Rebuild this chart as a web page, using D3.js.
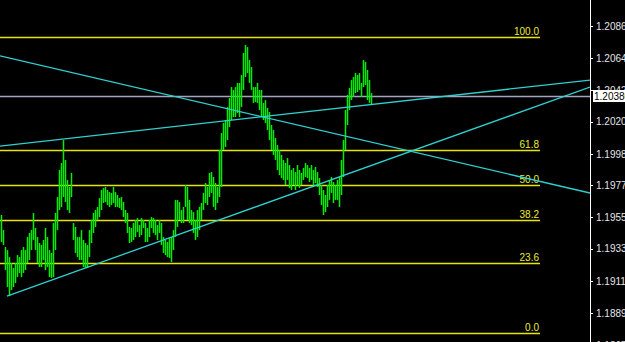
<!DOCTYPE html>
<html>
<head>
<meta charset="utf-8">
<script src="https://cdn.jsdelivr.net/npm/d3@7"></script>
<style>
  html, body { margin: 0; padding: 0; background: #000; }
  svg { display: block; }
  text { font-family: "Liberation Sans", Arial, sans-serif; font-size: 10px; }
</style>
</head>
<body>
<div id="chart"></div>
<script>
// bar highs / lows (EURUSD-ish)
var highs = [
  1.19566, 1.19463, 1.19347, 1.19326, 1.19278, 1.19237, 1.19203, 1.19237, 1.19292, 1.19278,
  1.19326, 1.19347, 1.19326, 1.19415, 1.19443, 1.19463, 1.19580, 1.19477, 1.19415, 1.19374,
  1.19361, 1.19395, 1.19477, 1.19415, 1.19326, 1.19306, 1.19511, 1.19580, 1.19689, 1.19874,
  1.19922, 1.20079, 1.19943, 1.19806, 1.19758, 1.19854,
  1.19511, 1.19484, 1.19415, 1.19415, 1.19463, 1.19395, 1.19374, 1.19361, 1.19463, 1.19532,
  1.19580, 1.19600, 1.19621, 1.19682, 1.19737, 1.19751, 1.19758, 1.19737, 1.19723, 1.19717,
  1.19758, 1.19723, 1.19703, 1.19682, 1.19689, 1.19655, 1.19600, 1.19580, 1.19484,
  1.19477, 1.19511, 1.19532, 1.19545, 1.19497, 1.19545, 1.19532, 1.19511, 1.19477, 1.19532,
  1.19552, 1.19545, 1.19532, 1.19497, 1.19532, 1.19511, 1.19415, 1.19395, 1.19381, 1.19408,
  1.19415, 1.19463, 1.19669, 1.19669, 1.19655, 1.19600, 1.19621, 1.19771, 1.19758, 1.19669,
  1.19600, 1.19586, 1.19532, 1.19600, 1.19621,
  1.19648, 1.19717, 1.19785, 1.19758, 1.19854, 1.19860, 1.19826, 1.19785, 1.19758, 1.20011,
  1.20127, 1.20196, 1.20216, 1.20305, 1.20367, 1.20442, 1.20422, 1.20442, 1.20470, 1.20470,
  1.20525, 1.20675, 1.20730, 1.20716, 1.20627, 1.20579, 1.20442, 1.20442, 1.20470, 1.20422,
  1.20422, 1.20333,
  1.20353, 1.20299, 1.20271, 1.20182, 1.20148, 1.20093, 1.20045, 1.20011, 1.19977, 1.19943,
  1.19922, 1.19956, 1.19908, 1.19874, 1.19888, 1.19860, 1.19908, 1.19874, 1.19854, 1.19888,
  1.19922, 1.19908, 1.19888, 1.19908, 1.19874, 1.19895, 1.19860, 1.19819, 1.19771, 1.19737,
  1.19703, 1.19771, 1.19806, 1.19826, 1.19792, 1.19771, 1.19806, 1.19826, 1.19943, 1.20079,
  1.20285, 1.20388, 1.20436, 1.20490, 1.20511, 1.20538, 1.20525, 1.20538, 1.20470, 1.20627,
  1.20614, 1.20559, 1.20490, 1.20401
];
var lows = [
  1.19381, 1.19361, 1.19189, 1.19073, 1.19011, 1.19052, 1.19073, 1.19100, 1.19141, 1.19169,
  1.19141, 1.19169, 1.19189, 1.19237, 1.19258, 1.19326, 1.19395, 1.19326, 1.19237, 1.19210,
  1.19210, 1.19258, 1.19189, 1.19210, 1.19141, 1.19135, 1.19141, 1.19326, 1.19463, 1.19600,
  1.19621, 1.19689, 1.19655, 1.19600, 1.19580, 1.19689,
  1.19395, 1.19306, 1.19278, 1.19258, 1.19258, 1.19210, 1.19203, 1.19203, 1.19278, 1.19374,
  1.19443, 1.19484, 1.19532, 1.19552, 1.19600, 1.19648, 1.19655, 1.19634, 1.19621, 1.19634,
  1.19648, 1.19621, 1.19621, 1.19614, 1.19600, 1.19552, 1.19511, 1.19443, 1.19374,
  1.19381, 1.19395, 1.19415, 1.19450, 1.19415, 1.19429, 1.19477, 1.19381, 1.19381, 1.19415,
  1.19477, 1.19443, 1.19429, 1.19395, 1.19443, 1.19361, 1.19306, 1.19292, 1.19278, 1.19272,
  1.19244, 1.19326, 1.19415, 1.19484, 1.19532, 1.19511, 1.19511, 1.19621, 1.19532, 1.19511,
  1.19497, 1.19443, 1.19395, 1.19415, 1.19463,
  1.19532, 1.19600, 1.19648, 1.19634, 1.19689, 1.19717, 1.19621, 1.19600, 1.19648, 1.19689,
  1.19758, 1.20011, 1.20032, 1.20079, 1.20168, 1.20216, 1.20237, 1.20237, 1.20264, 1.20237,
  1.20305, 1.20422, 1.20511, 1.20538, 1.20470, 1.20422, 1.20333, 1.20340, 1.20333, 1.20285,
  1.20237, 1.20216,
  1.20196, 1.20148, 1.20079, 1.20011, 1.19977, 1.19943, 1.19874, 1.19840, 1.19819, 1.19806,
  1.19771, 1.19806, 1.19751, 1.19737, 1.19771, 1.19737, 1.19771, 1.19751, 1.19771, 1.19806,
  1.19826, 1.19819, 1.19792, 1.19806, 1.19771, 1.19785, 1.19758, 1.19703, 1.19634, 1.19566,
  1.19586, 1.19621, 1.19669, 1.19717, 1.19648, 1.19669, 1.19669, 1.19621, 1.19703, 1.19826,
  1.20011, 1.20182, 1.20285, 1.20353, 1.20374, 1.20401, 1.20408, 1.20422, 1.20374, 1.20442,
  1.20456, 1.20353, 1.20333, 1.20319
];
var lastPrice = 1.20380;

// right price scale labels
var priceTicks = [1.20860, 1.20640, 1.20420, 1.20205, 1.19985, 1.19770, 1.19550, 1.19335, 1.19115, 1.18895, 1.18675];

// fibonacci retracement
var fibHigh = 1.20785;
var fibLow = 1.18758;
var fibLevels = [0.0, 23.6, 38.2, 50.0, 61.8, 100.0];

// trend lines as [bar index, price] anchor pairs
var trendDown = [[-0.5, 1.20655], [203.5, 1.20006]];
var trendUpper = [[-0.5, 1.20038], [294.5, 1.20490]];
var trendLower = [[3, 1.19011], [294.5, 1.20442]];

var width = 625, height = 342;
var axisX = 590;

var svg = d3.select("#chart")
  .append("svg")
    .attr("width", width)
    .attr("height", height)
    .style("background", "#000");

var x = d3.scaleLinear()
  .domain([0, highs.length - 1])
  .range([1, 1 + 2 * (highs.length - 1)]);

var y = d3.scaleLinear()
  .domain([1.20860, 1.18895])
  .range([26, 313]);

svg.append("clipPath")
    .attr("id", "plot")
  .append("rect")
    .attr("x", 0).attr("y", 0)
    .attr("width", axisX).attr("height", height);

var plot = svg.append("g").attr("clip-path", "url(#plot)");

// fib levels
var fibG = plot.append("g");
fibLevels.forEach(function(lv) {
  var p = fibLow + (fibHigh - fibLow) * lv / 100;
  var yy = Math.round(y(p)) + 0.5;
  fibG.append("line")
    .attr("x1", 0).attr("x2", 540)
    .attr("y1", yy).attr("y2", yy)
    .attr("stroke", "#e6e600")
    .attr("stroke-width", 1.6);
  fibG.append("text")
    .attr("x", 539)
    .attr("y", yy - 3)
    .attr("text-anchor", "end")
    .attr("fill", "#ecec30")
    .text(lv.toFixed(1));
});

// current price line
plot.append("line")
  .attr("x1", 0).attr("x2", axisX)
  .attr("y1", Math.round(y(lastPrice)) + 0.5)
  .attr("y2", Math.round(y(lastPrice)) + 0.5)
  .attr("stroke", "#a4a4c0")
  .attr("stroke-width", 1.3);

// bars
plot.append("g")
  .selectAll("line")
  .data(highs)
  .enter()
  .append("line")
    .attr("x1", function(d, i) { return Math.round(x(i)) + 0.5; })
    .attr("x2", function(d, i) { return Math.round(x(i)) + 0.5; })
    .attr("y1", function(d) { return y(d); })
    .attr("y2", function(d, i) { return y(lows[i]); })
    .attr("stroke", "#00ee00")
    .attr("stroke-width", 1.5);

// trend lines, extended to the price axis
var xEnd = x.invert(axisX);
function ray(pts) {
  var a = pts[0], b = pts[1];
  var slope = (b[1] - a[1]) / (b[0] - a[0]);
  return [a, [xEnd, a[1] + slope * (xEnd - a[0])]];
}
[trendDown, trendUpper, trendLower].forEach(function(t) {
  var r = ray(t);
  plot.append("line")
    .attr("x1", x(r[0][0])).attr("y1", y(r[0][1]))
    .attr("x2", x(r[1][0])).attr("y2", y(r[1][1]))
    .attr("stroke", "#30d0d0")
    .attr("stroke-width", 1.3);
});

// price axis
var axis = svg.append("g")
  .attr("transform", "translate(" + axisX + ",0)")
  .call(d3.axisRight(y).tickValues(priceTicks).tickFormat(d3.format(".5f")).tickSize(3).tickPadding(3));
axis.select(".domain").remove();
axis.selectAll(".tick line").attr("stroke", "#fff").attr("shape-rendering", "crispEdges");
axis.selectAll(".tick text")
  .attr("fill", "#e6e6e6")
  .style("font-family", "'Liberation Sans', Arial, sans-serif")
  .style("font-size", "10px");

svg.append("line")
  .attr("x1", axisX + 0.5).attr("x2", axisX + 0.5)
  .attr("y1", 0).attr("y2", height)
  .attr("stroke", "#fff")
  .attr("shape-rendering", "crispEdges");

// last price tag
var lp = Math.round(y(lastPrice));
svg.append("rect")
  .attr("x", 593).attr("y", lp - 6)
  .attr("width", 32).attr("height", 12)
  .attr("fill", "#fff");
svg.append("text")
  .attr("x", 594)
  .attr("y", lp + 4)
  .attr("fill", "#000")
  .text(d3.format(".5f")(lastPrice));
</script>
</body>
</html>
